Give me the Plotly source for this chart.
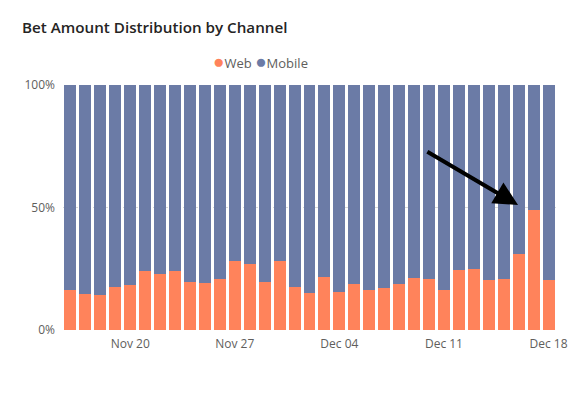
import plotly.graph_objects as go
import pandas as pd

dates = pd.date_range("2023-11-16", "2023-12-18", freq="D")
web_share = [16.4, 14.6, 14.1, 17.6, 18.3, 23.9, 22.9, 24.1, 19.6, 19.1, 20.9,
             28.0, 27.0, 19.5, 28.1, 17.5, 15.0, 21.6, 15.7, 18.6, 16.4, 17.1,
             18.8, 21.3, 20.9, 16.4, 24.6, 25.0, 20.6, 20.7, 31.0, 48.8, 20.5]
mobile_share = [100 - w for w in web_share]
tick_dates = ["2023-11-20", "2023-11-27", "2023-12-04", "2023-12-11", "2023-12-18"]
y_ticks = [0, 50, 100]
y_labels = ["0%", "50%", "100%"]

WEB = "#FF835B"
MOB = "#6B7BA6"
FONT = "Open Sans, Segoe UI, sans-serif"

W, H = 578, 385  # page body has an 8px margin
fig = go.Figure()
fig.add_trace(go.Bar(x=dates, y=web_share, name="Web", marker_color=WEB,
                     marker_line_width=0))
fig.add_trace(go.Bar(x=dates, y=mobile_share, name="Mobile", marker_color=MOB,
                     marker_line_width=0))

# compact legend like the reference
fig.add_annotation(xref="paper", yref="paper", x=0.40, y=1.098,
                   xanchor="center", yanchor="middle", showarrow=False,
                   text=f"<span style='color:{WEB}; font-size:19px'>●</span>Web "
                        f"<span style='color:{MOB}; font-size:19px'>●</span>Mobile",
                   font=dict(family=FONT, size=13, color="#605E5C"))

fig.add_annotation(xref="x domain", yref="y domain", axref="x domain", ayref="y domain",
                   x=0.923, y=0.51, ax=0.736, ay=0.731, text="",
                   showarrow=True, arrowhead=2, arrowsize=1.2, arrowwidth=4,
                   arrowcolor="black")

fig.update_layout(
    barmode="stack", bargap=0.2,
    width=W, height=H,
    margin=dict(l=55, r=30, t=77, b=63, autoexpand=False),
    paper_bgcolor="white", plot_bgcolor="white",
    font=dict(family=FONT, color="#605E5C", size=12),
    title=dict(text="Bet Amount Distribution by Channel", x=14 / W, xanchor="left",
               y=1 - 20 / H, yanchor="middle", pad=dict(l=0, r=0, t=0, b=0),
               font=dict(family=FONT, size=15.2, color="#252423", weight=600)),
    showlegend=False,
)
fig.update_xaxes(tickvals=pd.to_datetime(tick_dates), tickformat="%b %d",
                 showgrid=False, ticks="", showline=False, zeroline=False,
                 automargin=False, ticklabelstandoff=5,
                 tickfont=dict(size=12, color="#605E5C"))
fig.update_yaxes(range=[0, 100], tickvals=y_ticks, ticktext=y_labels,
                 showgrid=True, gridcolor="#D9D9D9", griddash="dot", gridwidth=1,
                 zeroline=False, showline=False, ticks="", automargin=False,
                 ticklabelstandoff=7,
                 tickfont=dict(size=12, color="#605E5C"))

fig.write_html("out.html")
